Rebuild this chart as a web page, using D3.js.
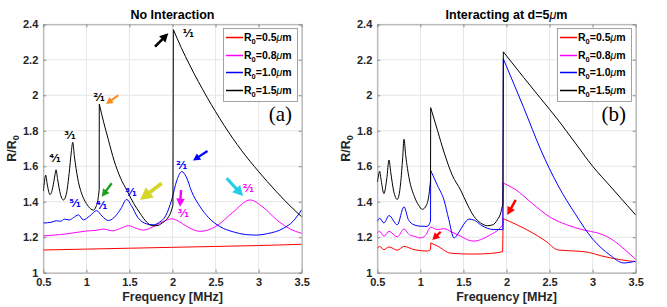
<!DOCTYPE html>
<html>
<head>
<meta charset="utf-8">
<script src="https://cdn.jsdelivr.net/npm/d3@7"></script>
<style>
  body { margin: 0; background: #fff; }
  svg { display: block; font-family: "Liberation Sans", Arial, sans-serif; }
</style>
</head>
<body>
<svg id="chart" width="667" height="307"></svg>
<script>
// axis ticks
const xTicks = [0.5, 1, 1.5, 2, 2.5, 3, 3.5];
const xTickLabels = ["0.5", "1", "1.5", "2", "2.5", "3", "3.5"];
const yTicks = [1, 1.2, 1.4, 1.6, 1.8, 2, 2.2, 2.4];
const yTickLabels = ["1", "1.2", "1.4", "1.6", "1.8", "2", "2.2", "2.4"];

// legend
const radii = ["0.5", "0.8", "1.0", "1.5"];
const seriesColors = ["#ff0000", "#ff00ff", "#0000ff", "#000000"];

// (a) no interaction -- each series is a list of segments, split at the jumps
const aR05 = [[[0.5,1.128],[1.0,1.133],[1.5,1.138],[2.0,1.143],[2.5,1.148],[3.0,1.153],[3.5,1.16]]];
const aR08 = [[[0.5,1.207],[0.6,1.211],[0.7,1.215],[0.8,1.221],[0.9,1.228],[1.0,1.235],[1.1,1.238],[1.2,1.246],[1.3,1.236],
  [1.4,1.25],[1.49,1.265],[1.58,1.25],[1.66,1.24],[1.8,1.265],[1.9,1.29],[1.99,1.304],[2.07,1.29],[2.165,1.261],[2.32,1.233],
  [2.5,1.26],[2.7,1.34],[2.9,1.41],[3.05,1.37],[3.21,1.298],[3.35,1.25],[3.5,1.222]]];
const aR10 = [[[0.5,1.28],[0.6,1.285],[0.65,1.293],[0.7,1.29],[0.75,1.302],[0.8,1.297],[0.85,1.31],[0.907,1.326],[0.965,1.298],
  [1.04,1.32],[1.119,1.35],[1.18,1.32],[1.255,1.294],[1.32,1.31],[1.4,1.36],[1.468,1.413],[1.52,1.38],[1.6,1.31],[1.7,1.275],
  [1.778,1.27],[1.85,1.285],[1.92,1.32],[1.99,1.41],[2.05,1.52],[2.107,1.57],[2.16,1.54],[2.22,1.46],[2.32,1.372],[2.42,1.31],
  [2.55,1.26],[2.707,1.23],[2.85,1.215],[2.978,1.212],[3.1,1.22],[3.287,1.25],[3.4,1.29],[3.5,1.355]]];
const aR15 = [
  [[0.5,1.46],[0.515,1.52],[0.528,1.55],[0.545,1.5],[0.578,1.44],[0.61,1.48],[0.635,1.55],[0.648,1.58],[0.665,1.53],[0.7,1.44],
   [0.735,1.41],[0.77,1.45],[0.8,1.56],[0.825,1.68],[0.842,1.735],[0.86,1.66],[0.9,1.53],[0.95,1.44],[1.0,1.39],[1.05,1.36],
   [1.08,1.353],[1.11,1.37],[1.14,1.43],[1.149,1.47]],
  [[1.15,1.95],[1.2,1.85],[1.255,1.75],[1.32,1.635],[1.4,1.53],[1.468,1.466],[1.55,1.39],[1.623,1.335],[1.7,1.285],[1.76,1.265],
   [1.82,1.265],[1.88,1.28],[1.93,1.3],[1.98,1.34],[2.005,1.38]],
  [[2.01,2.37],[2.1,2.27],[2.2,2.17],[2.4,1.99],[2.6,1.83],[2.8,1.69],[3.0,1.57],[3.2,1.46],[3.4,1.36],[3.5,1.315]]
];

// (b) interacting at d=5um
const bR05 = [
  [[0.5,1.138],[0.527,1.148],[0.577,1.13],[0.636,1.145],[0.732,1.127],[0.81,1.148],[0.926,1.13],[1.08,1.122],[1.118,1.13]],
  [[1.121,1.168],[1.2,1.15],[1.35,1.11],[1.6,1.105],[1.8,1.108],[1.955,1.118]],
  [[1.962,1.305],[2.1,1.275],[2.3,1.225],[2.45,1.18],[2.6,1.128],[2.8,1.122],[2.95,1.115],[3.1,1.095],[3.3,1.075],[3.5,1.062]]
];
const bR08 = [
  [[0.5,1.224],[0.527,1.233],[0.577,1.206],[0.636,1.233],[0.732,1.202],[0.81,1.246],[0.87,1.215],[0.93,1.205],[0.999,1.196],
   [1.06,1.21],[1.12,1.257],[1.197,1.243],[1.274,1.248],[1.36,1.23],[1.468,1.206],[1.55,1.185],[1.623,1.178],[1.72,1.19],
   [1.817,1.215],[1.9,1.24],[1.958,1.27]],
  [[1.963,1.505],[2.1,1.47],[2.3,1.39],[2.5,1.315],[2.7,1.27],[2.9,1.24],[3.05,1.225],[3.2,1.195],[3.35,1.14],[3.5,1.075]]
];
const bR10 = [
  [[0.5,1.289],[0.527,1.307],[0.577,1.28],[0.636,1.322],[0.732,1.27],[0.81,1.372],[0.86,1.3],[0.926,1.27],[1.0,1.262],
   [1.08,1.261],[1.118,1.289]],
  [[1.12,1.576],[1.2,1.49],[1.274,1.41],[1.33,1.3],[1.39,1.196],[1.45,1.23],[1.5,1.27],[1.565,1.302],[1.63,1.295],[1.7,1.27],
   [1.78,1.25],[1.855,1.243],[1.958,1.243]],
  [[1.963,2.205],[2.2,1.93],[2.4,1.69],[2.6,1.49],[2.8,1.33],[3.0,1.19],[3.2,1.1],[3.36,1.055],[3.5,1.065]]
];
const bR15 = [
  [[0.5,1.51],[0.515,1.55],[0.527,1.572],[0.545,1.52],[0.577,1.446],[0.61,1.53],[0.636,1.635],[0.655,1.57],[0.69,1.46],
   [0.732,1.413],[0.77,1.5],[0.795,1.65],[0.81,1.752],[0.83,1.66],[0.87,1.53],[0.93,1.43],[0.98,1.38],[1.023,1.357],
   [1.07,1.38],[1.1,1.44],[1.118,1.52]],
  [[1.12,1.93],[1.2,1.8],[1.274,1.68],[1.37,1.55],[1.468,1.465],[1.55,1.38],[1.623,1.317],[1.7,1.28],[1.778,1.265],
   [1.84,1.27],[1.894,1.298],[1.935,1.34],[1.958,1.39]],
  [[1.963,2.245],[2.2,2.1],[2.4,1.98],[2.6,1.86],[2.8,1.73],[3.0,1.6],[3.2,1.49],[3.4,1.38],[3.5,1.325]]
];

// resonance labels in (a): [freq, value, text, colour]
const fracLabelsA = [
  [0.636, 1.644, "\u2074\u2044\u2081", "#000"], [0.81, 1.776, "\u00b3\u2044\u2081", "#000"],
  [1.147, 1.992, "\u00b2\u2044\u2081", "#000"], [2.183, 2.349, "\u00b9\u2044\u2081", "#000"],
  [0.868, 1.391, "\u2075\u2044\u2081", "#0000ff"], [1.178, 1.381, "\u2074\u2044\u2081", "#0000ff"],
  [1.518, 1.456, "\u00b3\u2044\u2081", "#0000ff"], [2.107, 1.607, "\u00b2\u2044\u2081", "#0000ff"],
  [2.125, 1.335, "\u00b3\u2044\u2081", "#ff00ff"], [2.88, 1.476, "\u00b2\u2044\u2081", "#ff00ff"]
];

// annotation arrows: tail, tip (data coords), colour, scale
const arrowsA = [
  [[1.797, 2.274], [1.951, 2.349], "#000000", 1.0],
  [[1.371, 2.0], [1.228, 1.951], "#ff8c1a", 0.8],
  [[1.294, 1.504], [1.178, 1.428], "#1f9e1f", 0.9],
  [[1.875, 1.504], [1.623, 1.41], "#d6d62a", 1.45],
  [[2.406, 1.686], [2.238, 1.632], "#0000ff", 0.85],
  [[2.099, 1.466], [2.087, 1.372], "#ff00ff", 0.95],
  [[2.629, 1.532], [2.819, 1.432], "#22cfe6", 1.2]
];
const arrowsB = [
  [[1.236, 1.231], [1.139, 1.184], "#ff0000", 0.85],
  [[2.107, 1.41], [2.009, 1.325], "#ff0000", 0.95]
];

const svg = d3.select("#chart");

const x = d3.scaleLinear().domain([0.5, 3.5]).range([43.3, 301.7]);
const y = d3.scaleLinear().domain([1, 2.4]).range([272.7, 24.3]);

const line = d3.line()
  .x(d => x(d[0]))
  .y(d => y(d[1]))
  .curve(d3.curveMonotoneX);

function segPath(segs) {
  return segs.map((s, i) => {
    const p = line(s);
    return i ? "L" + p.slice(1) : p;
  }).join("");
}

function drawArrow(g, tail, tip, color, s) {
  const x0 = x(tail[0]), y0 = y(tail[1]), x1 = x(tip[0]), y1 = y(tip[1]);
  const len = Math.hypot(x1 - x0, y1 - y0);
  const ux = (x1 - x0) / len, uy = (y1 - y0) / len;
  const hl = 8.5 * s, hw = 4.5 * s;
  const bx = x1 - ux * hl, by = y1 - uy * hl;
  g.append("line")
    .attr("x1", x0).attr("y1", y0).attr("x2", bx + ux).attr("y2", by + uy)
    .attr("stroke", color).attr("stroke-width", 2.6 * s);
  g.append("path")
    .attr("d", "M" + x1 + "," + y1 + "L" + (bx - uy * hw) + "," + (by + ux * hw) +
      "L" + (bx + uy * hw) + "," + (by - ux * hw) + "Z")
    .attr("fill", color);
}

function drawPanel(dx, id, title, series, tag) {
  const g = svg.append("g").attr("transform", "translate(" + dx + ",0)");

  g.append("clipPath").attr("id", "clip" + id)
    .append("rect").attr("x", x(0.5)).attr("y", y(2.4))
    .attr("width", x(3.5) - x(0.5)).attr("height", y(1) - y(2.4));

  // grid
  g.append("g").selectAll("line").data(xTicks).join("line")
    .attr("x1", d => x(d)).attr("x2", d => x(d))
    .attr("y1", y(1)).attr("y2", y(2.4))
    .attr("stroke", "#e6e6e6");
  g.append("g").selectAll("line").data(yTicks).join("line")
    .attr("y1", d => y(d)).attr("y2", d => y(d))
    .attr("x1", x(0.5)).attr("x2", x(3.5))
    .attr("stroke", "#e6e6e6");

  // axes
  const xa = g.append("g").attr("transform", "translate(0," + y(1) + ")")
    .call(d3.axisBottom(x).tickValues(xTicks).tickSize(-3).tickPadding(6)
      .tickFormat((d, i) => xTickLabels[i]));
  const ya = g.append("g").attr("transform", "translate(" + x(0.5) + ",0)")
    .call(d3.axisLeft(y).tickValues(yTicks).tickSize(-3).tickPadding(5)
      .tickFormat((d, i) => yTickLabels[i]));
  g.append("g").attr("transform", "translate(0," + y(2.4) + ")")
    .call(d3.axisTop(x).tickValues(xTicks).tickSize(-3).tickFormat(""));
  g.append("g").attr("transform", "translate(" + x(3.5) + ",0)")
    .call(d3.axisRight(y).tickValues(yTicks).tickSize(-3).tickFormat(""));
  g.selectAll(".domain").attr("stroke", "#a6a6a6");
  g.selectAll(".tick line").attr("stroke", "#8c8c8c");
  [xa, ya].forEach(a => a.selectAll("text")
    .attr("font-family", "Liberation Sans, Arial, sans-serif")
    .attr("font-size", 11).attr("font-weight", "bold").attr("fill", "#262626"));

  // curves
  g.append("g").attr("clip-path", "url(#clip" + id + ")")
    .selectAll("path").data(series).join("path")
    .attr("d", d => segPath(d))
    .attr("fill", "none")
    .attr("stroke", (d, i) => seriesColors[i])
    .attr("stroke-width", 1);

  // title and axis labels
  const tt = g.append("text").attr("x", 172.5).attr("y", 19).attr("text-anchor", "middle")
    .attr("font-size", 12.5).attr("font-weight", "bold").attr("fill", "#000");
  tt.append("tspan").text(title[0]);
  if (title[1]) {
    tt.append("tspan").attr("font-weight", "normal").attr("font-style", "italic").text(title[1]);
    tt.append("tspan").text(title[2]);
  }
  g.append("text").attr("x", 172.5).attr("y", 301).attr("text-anchor", "middle")
    .attr("font-size", 12.5).attr("font-weight", "bold").attr("fill", "#262626")
    .text("Frequency [MHz]");
  const yl = g.append("text").attr("transform", "translate(16,148.5) rotate(-90)")
    .attr("text-anchor", "middle").attr("font-size", 12.5).attr("font-weight", "bold").attr("fill", "#262626");
  yl.append("tspan").text("R/R");
  yl.append("tspan").attr("font-size", 9).attr("dy", 3).text("0");

  // legend
  const lg = g.append("g");
  lg.append("rect").attr("x", 223.5).attr("y", 28.5).attr("width", 74).attr("height", 73)
    .attr("fill", "#fff").attr("stroke", "#8c8c8c").attr("stroke-width", 0.8);
  const rows = lg.selectAll("g.row").data(radii).join("g").attr("class", "row")
    .attr("transform", (d, i) => "translate(0," + (Math.round(37 + i * 17.6) + 0.5) + ")");
  rows.append("path")
    .attr("d", "M226,0H243")
    .attr("fill", "none")
    .style("stroke", (d, i) => seriesColors[i])
    .attr("stroke-width", 1.5);
  const t = rows.append("text").attr("x", 244).attr("y", 3.5)
    .attr("font-size", 10.5).attr("font-weight", "bold").attr("fill", "#000");
  t.append("tspan").text("R");
  t.append("tspan").attr("font-size", 7.5).attr("dy", 3).text("0");
  t.append("tspan").attr("dy", -3).text(d => "=" + d);
  t.append("tspan").attr("font-weight", "normal").attr("font-style", "italic").text("\u03bc");
  t.append("tspan").text("m");

  g.append("text").attr("x", 292).attr("y", 121).attr("text-anchor", "end")
    .attr("font-family", "Liberation Serif, Times New Roman, serif").attr("font-size", 21)
    .attr("fill", "#000").text(tag);

  return g;
}

const gA = drawPanel(0, "a", ["No Interaction", "", ""], [aR05, aR08, aR10, aR15], "(a)");
const gB = drawPanel(334, "b", ["Interacting at d=5", "\u03bc", "m"], [bR05, bR08, bR10, bR15], "(b)");

gA.append("g").selectAll("text").data(fracLabelsA).join("text")
  .attr("x", d => x(d[0])).attr("y", d => y(d[1]) + 4)
  .attr("text-anchor", "middle")
  .attr("font-family", "DejaVu Sans, sans-serif").attr("font-size", 11).attr("font-weight", "bold")
  .attr("fill", d => d[3])
  .text(d => d[2]);
arrowsA.forEach(a => drawArrow(gA, a[0], a[1], a[2], a[3]));
arrowsB.forEach(a => drawArrow(gB, a[0], a[1], a[2], a[3]));
</script>
</body>
</html>
